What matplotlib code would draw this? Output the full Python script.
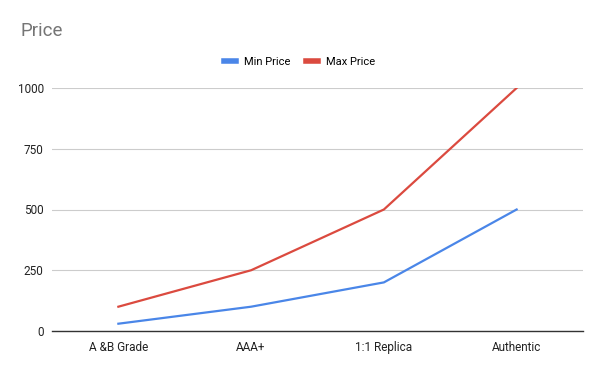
import matplotlib
matplotlib.use("Agg")
import matplotlib.pyplot as plt

categories = ["A &B Grade", "AAA+", "1:1 Replica", "Authentic"]
min_price = [30, 100, 200, 500]
max_price = [100, 250, 500, 1000]
y_ticks = [0, 250, 500, 750, 1000]

BLUE = "#4a86e8"
RED = "#db4a3f"

plt.rcParams["font.family"] = ["Roboto", "DejaVu Sans"]

fig = plt.figure(figsize=(6.0, 3.71), dpi=100)
ax = fig.add_axes([52 / 600, 1 - 331 / 371, (583 - 52) / 600, (331 - 88) / 371])

x = range(len(categories))
ax.plot(x, min_price, color=BLUE, lw=1.6, label="Min Price", solid_joinstyle="round")
ax.plot(x, max_price, color=RED, lw=1.6, label="Max Price", solid_joinstyle="round")

ax.set_xlim(-0.5, len(categories) - 0.5)
ax.set_ylim(0, 1000)
ax.set_yticks(y_ticks)
ax.set_yticklabels([str(v) for v in y_ticks])
ax.set_xticks(list(x))
ax.set_xticklabels(categories)

ax.grid(axis="y", color="#cccccc", lw=0.8)
ax.set_axisbelow(True)
for side in ["top", "right", "left"]:
    ax.spines[side].set_visible(False)
ax.spines["bottom"].set_color("#333333")
ax.spines["bottom"].set_linewidth(1.0)
ax.spines["bottom"].set_zorder(1)
ax.tick_params(axis="both", length=0, labelsize=8.5, colors="#222222")
ax.tick_params(axis="y", pad=6)
ax.tick_params(axis="x", pad=7)

fig.text(20 / 600, 1 - 31 / 371, "Price", fontsize=13.5, color="#757575",
         ha="left", va="center")

leg = fig.legend(loc="center", bbox_to_anchor=(300 / 600, 1 - 62 / 371), ncol=2,
                 frameon=False, fontsize=8, handlelength=1.0, handleheight=0.6,
                 columnspacing=1.4, handletextpad=0.8)
for h in leg.get_lines():
    h.set_linewidth(4)

fig.savefig("out.png", dpi=100)
